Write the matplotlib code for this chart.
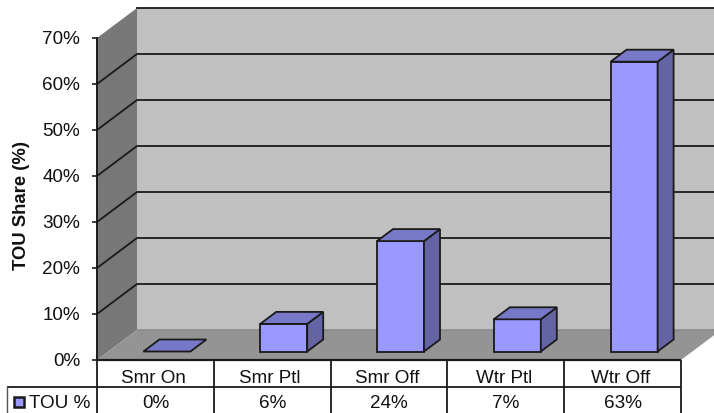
import matplotlib
matplotlib.use("Agg")
import matplotlib.pyplot as plt
from matplotlib.patches import Polygon, Rectangle

plt.rcParams['font.family'] = ['Liberation Sans', 'DejaVu Sans']

categories = ["Smr On", "Smr Ptl", "Smr Off", "Wtr Ptl", "Wtr Off"]
tou_share = [0, 6, 24, 7, 63]
value_labels = ["0%", "6%", "24%", "7%", "63%"]
y_ticks = [0, 10, 20, 30, 40, 50, 60, 70]
series_name = "TOU %"
y_title = "TOU Share (%)"

W, H = 714, 413
DARK = "#1a1a1a"
WALL = "#c0c0c0"
SIDE = "#787878"
FLOOR = "#949494"
FRONT = "#9999ff"
TOP = "#7878c8"
RIGHT = "#6464a4"
TEXT = "#111111"
FS = 13.6

fig = plt.figure(figsize=(W / 100, H / 100), dpi=100, facecolor="white")
# axes box is the front plane of the 3-D chart, in pixel fractions
L, R, Y0, Y70 = 97, 681, 360, 38
ax = fig.add_axes([L / W, 1 - Y0 / H, (R - L) / W, (Y0 - Y70) / H])
ax.set_xlim(0, 5)
ax.set_ylim(0, 70)
ax.patch.set_visible(False)
for s in ax.spines.values():
    s.set_visible(False)

ux = (R - L) / 5          # pixels per category
uy = (Y0 - Y70) / 70      # pixels per percent


def px(dx):
    return dx / ux


def py(dy):
    return dy / uy


DX, DY = px(40), py(30)   # chart depth
far = px(60)              # walls run past the right figure edge

# walls and floor
ax.add_patch(Polygon([(DX, DY), (5 + far, DY), (5 + far, 70 + DY), (DX, 70 + DY)],
                     fc=WALL, ec="none", clip_on=False, zorder=1))
ax.add_patch(Polygon([(0, 0), (DX, DY), (DX, 70 + DY), (0, 70)],
                     fc=SIDE, ec="none", clip_on=False, zorder=1))
ax.add_patch(Polygon([(0, 0), (5, 0), (5 + DX, DY), (DX, DY)],
                     fc=FLOOR, ec="none", clip_on=False, zorder=1))

# gridlines wrap from the side wall onto the back wall
for v in y_ticks[1:-1]:
    ax.plot([0, DX, 5 + far], [v, v + DY, v + DY], color=DARK, lw=1.3,
            clip_on=False, zorder=2, solid_joinstyle="miter")
ax.plot([DX, 5 + far], [70 + DY, 70 + DY], color=DARK, lw=1.3, clip_on=False, zorder=2)
ax.plot([DX, 5 + far], [DY, DY], color="#8a8a8a", lw=1.2, clip_on=False, zorder=2)
ax.plot([0, 0], [0, 70], color=DARK, lw=1.4, clip_on=False, zorder=3)

# 3-D bars
bar_w = px(47)
bx, by = px(11.5), py(8.5)
ddx, ddy = px(16), py(12)
for i, v in enumerate(tou_share):
    x0 = i + 0.5 - bar_w / 2 + bx
    x1 = x0 + bar_w
    y0 = by
    y1 = by + v
    style = dict(ec=DARK, lw=1.3, clip_on=False, zorder=4, joinstyle="miter")
    if v > 0:
        ax.add_patch(Rectangle((x0, y0), bar_w, v, fc=FRONT, **style))
        ax.add_patch(Polygon([(x1, y0), (x1 + ddx, y0 + ddy), (x1 + ddx, y1 + ddy), (x1, y1)],
                             fc=RIGHT, **style))
    ax.add_patch(Polygon([(x0, y1), (x1, y1), (x1 + ddx, y1 + ddy), (x0 + ddx, y1 + ddy)],
                         fc=TOP, **style))

# y axis
ax.set_yticks(y_ticks)
ax.set_yticklabels([f"{t}%" for t in y_ticks], fontsize=FS, color=TEXT)
ax.tick_params(axis="y", length=3.6, width=1.2, color=DARK, pad=8.5)
ax.set_ylabel(y_title, fontsize=13.3, fontweight="bold", color=TEXT)
ax.yaxis.set_label_coords((30 - L) / (R - L), (Y0 - 206) / (Y0 - Y70))

# data table under the plot; its last row is cut off by the figure edge
row1 = -py(27)
bottom = -py(53.5)
ax.set_xticks([i + 0.5 - px(2) for i in range(5)])
ax.set_xticklabels(categories, fontsize=FS, color=TEXT)
ax.tick_params(axis="x", length=0, pad=7.5)
table = dict(color=DARK, lw=1.3, clip_on=False, zorder=3, solid_capstyle="butt")
left = -px(89.5)
ax.plot([0, 5], [0, 0], color=DARK, lw=1.6, clip_on=False, zorder=3, solid_capstyle="butt")
ax.plot([left, 5], [row1, row1], **table)
ax.plot([left, left], [row1, bottom], color="#555555", lw=1.0, clip_on=False, zorder=3)
for i in range(6):
    ax.plot([i, i], [0, bottom], **table)
mid = -py(43)
for i, lab in enumerate(value_labels):
    ax.text(i + 0.5, mid, lab, ha="center", va="center", fontsize=FS, color=TEXT)
ax.text(-px(68), mid, series_name, ha="left", va="center", fontsize=FS, color=TEXT)
ax.add_patch(Rectangle((-px(83), mid - py(4)), px(10.5), py(10), fc=FRONT, ec=DARK, lw=1.8,
                       clip_on=False, zorder=4))

fig.savefig("out.png", dpi=100, facecolor="white")
